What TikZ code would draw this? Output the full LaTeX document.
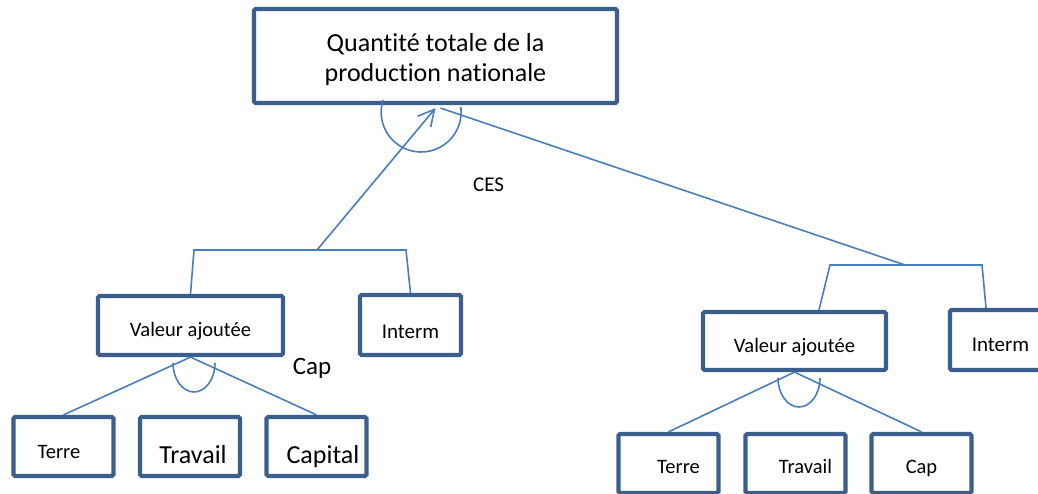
\documentclass[tikz,border=0pt]{standalone}
\usepackage{fontspec}
\setmainfont{Carlito}[Ligatures=NoCommon]
\usetikzlibrary{positioning,arrows.meta}
\definecolor{boxblue}{HTML}{3B5E8C}
\definecolor{linkblue}{HTML}{4A7EBB}

\begin{document}
\begin{tikzpicture}[x=1pt, y=-1pt,
	box/.style={rectangle, draw=boxblue, line width=4.2pt, rounded corners=1.5pt, inner sep=0, fill=white},
	link/.style={draw, color=linkblue, line width=1.6pt},
	txtdown/.style={text height=#1, text depth=0pt}]
	\clip (0,0) rectangle (1038,494);
	\node[box, minimum width=363pt, minimum height=94pt, align=center, font=\fontsize{26}{30.5}\selectfont] at(435.5,56) (top) {\rule{0pt}{25pt}Quantité totale de la\\production nationale};
	\node[box, minimum width=185pt, minimum height=59pt, font=\fontsize{20.5}{24}\selectfont, txtdown=22.6pt] at(190.5,325.5) (lva) {Valeur ajoutée};
	\node[box, minimum width=101pt, minimum height=60pt, font=\fontsize{21}{24}\selectfont, txtdown=27.9pt] at(410.5,325) (lint) {Interm};
	\node[box, minimum width=183pt, minimum height=58pt, font=\fontsize{20.5}{24}\selectfont, txtdown=23.6pt] at(794.5,341) (rva) {Valeur ajoutée};
	\node[box, minimum width=101pt, minimum height=60pt, font=\fontsize{21}{24}\selectfont, txtdown=23.9pt] at(1000.5,340) (rint) {Interm};
	\foreach \x/\n/\t/\s/\h in {63.5/lterre/{\hspace*{-9pt}Terre}/20.5/24.6, 190/ltrav/{\hspace*{6pt}Travail}/26/34.2, 316.5/lcap/{\hspace*{13pt}Capital}/26/34.2} {
		\node[box, minimum width=100pt, minimum height=59pt, font=\fontsize{\s}{\s}\selectfont, txtdown=\h pt] at(\x,446.5) (\n) {\t};
	};
	\foreach \x/\n/\t in {668.5/rterre/{\hspace*{20pt}Terre}, 795.5/rtrav/{\hspace*{20pt}Travail}, 921.5/rcap/Cap} {
		\node[box, minimum width=100pt, minimum height=59pt, font=\fontsize{20.5}{24}\selectfont, txtdown=20.6pt] at(\x,463.5) (\n) {\t};
	};
	\node[font=\fontsize{21}{24}\selectfont] at(488.5,185) (ces) {CES};
	\node[font=\fontsize{25}{28}\selectfont] at(312,368) (caplbl) {Cap};
	% brackets
	\coordinate (lbl) at (194,250);
	\coordinate (lbr) at (406,250);
	\coordinate (lbm) at (317,250);
	\coordinate (rbl) at (830,265);
	\coordinate (rbr) at (982,265);
	\coordinate (rbm) at (905,265);
	\draw[link] (lva.north) -- (lbl) -- (lbr) -- (lint.north);
	\draw[link] ([xshift=24.5pt]rva.north) -- (rbl) -- (rbr) -- ([xshift=-14.5pt]rint.north);
	\draw[link, -{Straight Barb[length=16pt, width=17pt]}] (lbm) -- ([yshift=-3pt]top.south);
	\draw[link] ([xshift=5pt, yshift=-3pt]top.south) -- (rbm);
	\path[link]
		(lva.south) edge (lterre.north) edge (lcap.north)
		(rva.south) edge (rterre.north) edge (rcap.north);
	% arcs
	\draw[link] (383,100) arc[start angle=162.5, end angle=367, radius=40pt];
	\draw[link] (173,363) arc[start angle=180, end angle=360, x radius=21pt, y radius=29pt];
	\draw[link] (778,378) arc[start angle=180, end angle=360, x radius=21pt, y radius=29pt];
\end{tikzpicture}
\end{document}
